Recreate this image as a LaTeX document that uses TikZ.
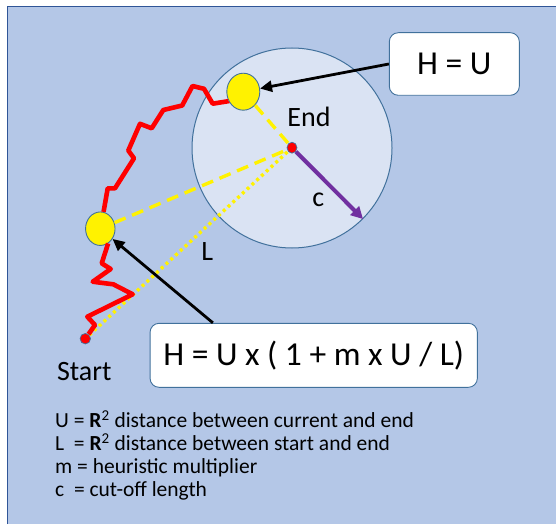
\documentclass[tikz,border=0pt]{standalone}
\usepackage{fontspec}
\setmainfont{Carlito}
\usetikzlibrary{arrows.meta,shapes.geometric}
\definecolor{bgblue}{HTML}{B4C7E7}
\definecolor{frameblue}{HTML}{2F5597}
\definecolor{zonefill}{HTML}{DAE3F3}
\definecolor{outlineblue}{HTML}{41719C}
\definecolor{purplec}{HTML}{7030A0}
\begin{document}
\begin{tikzpicture}[x=1pt,y=-1pt,
  bigzone/.style={circle, draw=outlineblue, fill=zonefill, line width=1pt, minimum size=200pt, inner sep=0pt},
  ball/.style={ellipse, draw=outlineblue, fill=yellow, line width=0.9pt, inner sep=0pt},
  reddot/.style={ellipse, draw=outlineblue, fill=red, line width=0.7pt, inner sep=0pt},
  callout/.style={draw=outlineblue, fill=white, rounded corners=9pt, line width=0.9pt, inner sep=0pt, font=\fontsize{33.5}{40}\selectfont},
  lbl/.style={inner sep=0pt, font=\fontsize{28}{33}\selectfont},
  legendline/.style={inner sep=0pt, anchor=base west, font=\fontsize{21.5}{25}\selectfont},
  pathred/.style={draw=red, line width=4.6pt, line join=round},
  ydash/.style={draw=yellow, line width=3.4pt, dash pattern=on 12pt off 7pt},
  ydot/.style={draw=yellow, line width=3.4pt, dash pattern=on 3pt off 3.5pt},
  pointer/.style={draw=black, line width=2.8pt, -{Triangle[length=12pt,width=11pt]}},
  radiusarrow/.style={draw=purplec, line width=4pt, -{Triangle[length=12pt,width=12pt]}}]
\useasboundingbox (0,0) rectangle (556,524);
\fill[white] (0,0) rectangle (556,524);
\fill[bgblue] (7,7) rectangle (556,524);
\draw[frameblue, line width=1pt] (7,524) -- (7,7) -- (556,7);

% nodes
\node[bigzone] (zone) at (292,148) {};
\node[ball, minimum width=33pt, minimum height=37pt] (ytop) at (243.3,91.7) {};
\node[ball, minimum width=29.5pt, minimum height=33.5pt] (yleft) at (100.3,228.7) {};
\node[reddot, minimum width=10pt, minimum height=11pt] (enddot) at (292,147.7) {};
\node[reddot, minimum width=10.5pt, minimum height=10.5pt] (startdot) at (85.3,338.7) {};
\node[callout, minimum width=130pt, minimum height=62.6pt] (hu) at (454.3,64) {H = U};
\node[callout, minimum width=327.3pt, minimum height=64pt] (hf) at (313.7,355.3) {H = U x ( 1 + m x U / L)};
\node[lbl] (endlbl) at (309,117) {End};
\node[lbl] (startlbl) at (84.3,371.7) {Start};
\node[lbl] (llbl) at (207.3,251.7) {L};
\node[lbl] (clbl) at (318.3,200) {c};

% legend
\node[legendline] (leg1) at (55,427.7) {U = \textbf{R}\textsuperscript{2} distance between current and end};
\node[legendline] (leg2) at (55,450.7) {L\ \ = \textbf{R}\textsuperscript{2} distance between start and end};
\node[legendline] (leg3) at (55,473.7) {m = heuristic multiplier};
\node[legendline] (leg4) at (55,496.7) {c\ \ = cut-off length};

% connectors
\draw[ydot] (startdot) -- (enddot);
\draw[ydash] (yleft) -- (enddot);
\draw[ydash] (ytop) -- (enddot);
\draw[radiusarrow] (enddot) -- (zone.-45.5);

\draw[pathred] (yleft.79) -- (107.7,188.3) -- (115,188.3) -- (134,158.3) -- (128.3,150.5)
  -- (140,123.8) -- (151.7,128.3) -- (163.3,110) -- (182.2,105.5) -- (192.5,86)
  -- (204,88.8) -- (212.7,103.7) -- (228.3,101.2) -- (ytop);
\draw[pathred] (yleft.-62) -- (101.7,263.3) -- (110.7,269) -- (92.7,281.7) -- (113.3,284.3)
  -- (132.7,294.3) -- (87.3,316.7) -- (95,325) -- (startdot);

\draw[pointer] (hu.west) -- (ytop);
\draw[pointer] ([xshift=63.3pt]hf.north west) -- (yleft);
\end{tikzpicture}
\end{document}
